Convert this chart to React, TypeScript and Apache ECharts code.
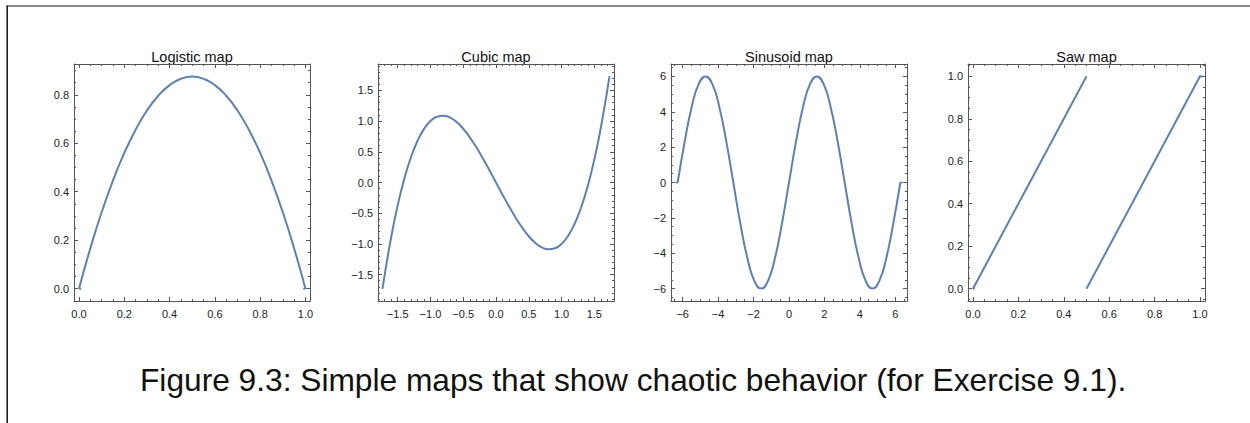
import React, { useEffect, useRef } from "react";
import * as echarts from "echarts";

const FONT = '"Liberation Sans", Arial, Helvetica, sans-serif';
const FRAME = "#555555";
const LABEL = "#222222";
const LINE = "#5e81b5";

// ---------- data ----------
const logisticX = [0, 0.05, 0.1, 0.15, 0.2, 0.25, 0.3, 0.35, 0.4, 0.45, 0.5, 0.55, 0.6, 0.65, 0.7, 0.75, 0.8, 0.85, 0.9, 0.95, 1];
const logisticY = [0, 0.166, 0.315, 0.446, 0.56, 0.656, 0.735, 0.796, 0.84, 0.866, 0.875, 0.866, 0.84, 0.796, 0.735, 0.656, 0.56, 0.446, 0.315, 0.166, 0];
const logisticFlatLeftX = [0, 0.01];
const logisticFlatLeftY = [0, 0];
const logisticFlatRightX = [0.99, 1];
const logisticFlatRightY = [0, 0];

const cubicX = [-1.732, -1.6, -1.5, -1.4, -1.3, -1.2, -1.1, -1.0, -0.9, -0.8, -0.7, -0.6, -0.5, -0.4, -0.3, -0.2, -0.1, 0, 0.1, 0.2, 0.3, 0.4, 0.5, 0.6, 0.7, 0.8, 0.9, 1.0, 1.1, 1.2, 1.3, 1.4, 1.5, 1.6, 1.732];
const cubicY = [-1.732, -0.896, -0.375, 0.056, 0.403, 0.672, 0.869, 1.0, 1.071, 1.088, 1.057, 0.984, 0.875, 0.736, 0.573, 0.392, 0.199, 0, -0.199, -0.392, -0.573, -0.736, -0.875, -0.984, -1.057, -1.088, -1.071, -1.0, -0.869, -0.672, -0.403, -0.056, 0.375, 0.896, 1.732];

const sinX = [-6.283, -5.890, -5.498, -5.105, -4.712, -4.320, -3.927, -3.534, -3.142, -2.749, -2.356, -1.963, -1.571, -1.178, -0.785, -0.393, 0, 0.393, 0.785, 1.178, 1.571, 1.963, 2.356, 2.749, 3.142, 3.534, 3.927, 4.320, 4.712, 5.105, 5.498, 5.890, 6.283];
const sinY = [0, 2.296, 4.243, 5.543, 6, 5.543, 4.243, 2.296, 0, -2.296, -4.243, -5.543, -6, -5.543, -4.243, -2.296, 0, 2.296, 4.243, 5.543, 6, 5.543, 4.243, 2.296, 0, -2.296, -4.243, -5.543, -6, -5.543, -4.243, -2.296, 0];
const sinFlatLeftX = [-6.4, -6.283];
const sinFlatLeftY = [0, 0];
const sinFlatRightX = [6.283, 6.4];
const sinFlatRightY = [0, 0];

const saw1X = [0, 0.25, 0.5];
const saw1Y = [0, 0.5, 1];
const saw2X = [0.5, 0.75, 1];
const saw2Y = [0, 0.5, 1];
const sawFlatLeftX = [0, 0.008];
const sawFlatLeftY = [0, 0];
const sawFlatRightX = [0.995, 1.01];
const sawFlatRightY = [1, 1];

// tick labels
const ticks01 = [0, 0.2, 0.4, 0.6, 0.8, 1.0];
const ticksLogY = [0, 0.2, 0.4, 0.6, 0.8];
const ticksCubic = [-1.5, -1.0, -0.5, 0, 0.5, 1.0, 1.5];
const ticksSin = [-6, -4, -2, 0, 2, 4, 6];

const titles = ["Logistic map", "Cubic map", "Sinusoid map", "Saw map"];
const caption = "Figure 9.3: Simple maps that show chaotic behavior (for Exercise 9.1).";

function minorTicks(min: number, max: number, step: number, majorStep: number) {
  const out: number[] = [];
  const start = Math.ceil(min / step - 1e-9);
  const end = Math.floor(max / step + 1e-9);
  for (let k = start; k <= end; k++) {
    const v = +(k * step).toFixed(6);
    const r = v / majorStep;
    if (Math.abs(r - Math.round(r)) > 1e-6) out.push(v);
  }
  return out;
}

const minus = (s: string) => s.replace("-", "\u2212");
const fmt1 = (v: number) => minus((Math.abs(v) < 1e-9 ? 0 : v).toFixed(1));
const fmt0 = (v: number) => minus((Math.abs(v) < 1e-9 ? 0 : v).toFixed(0));

type Line = { x: number[]; y: number[]; smooth: number | boolean };
type Panel = {
  title: string;
  left: number; top: number; width: number; height: number;
  xr: [number, number]; yr: [number, number];
  xMajor: number[]; yMajor: number[];
  xMinorStep: number; yMinorStep: number; xMajorStep: number; yMajorStep: number;
  xFmt: (v: number) => string; yFmt: (v: number) => string;
  lines: Line[];
};

const panels: Panel[] = [
  {
    title: titles[0], left: 74, top: 64, width: 236, height: 237,
    xr: [-0.022, 1.02], yr: [-0.051, 0.927],
    xMajor: ticks01, yMajor: ticksLogY, xMinorStep: 0.05, yMinorStep: 0.05, xMajorStep: 0.2, yMajorStep: 0.2,
    xFmt: fmt1, yFmt: fmt1,
    lines: [
      { x: logisticX, y: logisticY, smooth: 0.5 },
      { x: logisticFlatLeftX, y: logisticFlatLeftY, smooth: false },
      { x: logisticFlatRightX, y: logisticFlatRightY, smooth: false },
    ],
  },
  {
    title: titles[1], left: 378, top: 64, width: 236, height: 237,
    xr: [-1.8, 1.8], yr: [-1.93, 1.93],
    xMajor: ticksCubic, yMajor: ticksCubic, xMinorStep: 0.1, yMinorStep: 0.1, xMajorStep: 0.5, yMajorStep: 0.5,
    xFmt: fmt1, yFmt: fmt1,
    lines: [{ x: cubicX, y: cubicY, smooth: 0.5 }],
  },
  {
    title: titles[2], left: 671, top: 64, width: 236, height: 237,
    xr: [-6.66, 6.66], yr: [-6.7, 6.7],
    xMajor: ticksSin, yMajor: ticksSin, xMinorStep: 0.5, yMinorStep: 0.5, xMajorStep: 2, yMajorStep: 2,
    xFmt: fmt0, yFmt: fmt0,
    lines: [
      { x: sinX, y: sinY, smooth: 0.5 },
      { x: sinFlatLeftX, y: sinFlatLeftY, smooth: false },
      { x: sinFlatRightX, y: sinFlatRightY, smooth: false },
    ],
  },
  {
    title: titles[3], left: 968, top: 64, width: 237, height: 237,
    xr: [-0.022, 1.022], yr: [-0.058, 1.058],
    xMajor: ticks01, yMajor: ticks01, xMinorStep: 0.05, yMinorStep: 0.05, xMajorStep: 0.2, yMajorStep: 0.2,
    xFmt: fmt1, yFmt: fmt1,
    lines: [
      { x: saw1X, y: saw1Y, smooth: false },
      { x: saw2X, y: saw2Y, smooth: false },
      { x: sawFlatLeftX, y: sawFlatLeftY, smooth: false },
      { x: sawFlatRightX, y: sawFlatRightY, smooth: false },
    ],
  },
];

function buildOption() {
  const grid: any[] = [];
  const xAxis: any[] = [];
  const yAxis: any[] = [];
  const series: any[] = [];
  const graphic: any[] = [];

  panels.forEach((p, gi) => {
    grid.push({ left: p.left, top: p.top, width: p.width, height: p.height, containLabel: false });
    const xMinor = minorTicks(p.xr[0], p.xr[1], p.xMinorStep, p.xMajorStep);
    const yMinor = minorTicks(p.yr[0], p.yr[1], p.yMinorStep, p.yMajorStep);
    const tickStyle = { color: FRAME, width: 1 };
    const lineStyle = { color: FRAME, width: 1 };
    const label = (fmt: (v: number) => string, vals: number[], margin: number) => ({
      show: true, customValues: vals, formatter: fmt, margin, fontSize: 11, color: LABEL, fontFamily: FONT,
    });
    const mk = (dim: "x" | "y", position: string, showLine: boolean, vals: number[], len: number, lab: any) => ({
      type: "value",
      gridIndex: gi,
      position,
      min: dim === "x" ? p.xr[0] : p.yr[0],
      max: dim === "x" ? p.xr[1] : p.yr[1],
      splitLine: { show: false },
      axisLine: { show: showLine, onZero: false, lineStyle },
      axisTick: { show: true, inside: true, length: len, customValues: vals, lineStyle: tickStyle },
      axisLabel: lab || { show: false },
      silent: true,
    });
    xAxis.push(mk("x", "bottom", true, p.xMajor, 4, label(p.xFmt, p.xMajor, 7)));
    xAxis.push(mk("x", "bottom", false, xMinor, 2, null));
    xAxis.push(mk("x", "top", true, p.xMajor, 4, null));
    xAxis.push(mk("x", "top", false, xMinor, 2, null));
    yAxis.push(mk("y", "left", true, p.yMajor, 4, label(p.yFmt, p.yMajor, 5)));
    yAxis.push(mk("y", "left", false, yMinor, 2, null));
    yAxis.push(mk("y", "right", true, p.yMajor, 4, null));
    yAxis.push(mk("y", "right", false, yMinor, 2, null));

    p.lines.forEach((ln) => {
      series.push({
        type: "line",
        xAxisIndex: gi * 4,
        yAxisIndex: gi * 4,
        data: ln.x.map((x, i) => [x, ln.y[i]]),
        smooth: ln.smooth,
        symbol: "none",
        clip: true,
        lineStyle: { color: LINE, width: 2, cap: "butt", join: "round" },
        silent: true,
      });
    });

    graphic.push({
      type: "text",
      x: p.left + p.width / 2,
      y: 56.7,
      style: {
        text: p.title,
        font: `14.5px ${FONT}`,
        fill: "#111111",
        textAlign: "center",
        textVerticalAlign: "middle",
      },
      silent: true,
    });
  });

  // page frame lines
  graphic.push({
    type: "line",
    shape: { x1: 6, y1: 6, x2: 1250, y2: 6 },
    style: { stroke: "#8a8a8a", lineWidth: 2 },
    silent: true,
  });
  graphic.push({
    type: "line",
    shape: { x1: 7.2, y1: 6, x2: 7.2, y2: 423 },
    style: { stroke: "#111111", lineWidth: 1.5 },
    silent: true,
  });
  graphic.push({
    type: "text",
    x: 140,
    y: 380,
    style: {
      text: caption,
      font: `31.7px ${FONT}`,
      fill: "#111111",
      textAlign: "left",
      textVerticalAlign: "middle",
    },
    silent: true,
  });

  return {
    animation: false,
    backgroundColor: "#ffffff",
    grid,
    xAxis,
    yAxis,
    series,
    graphic,
  };
}

export default function App() {
  const ref = useRef<HTMLDivElement>(null);
  useEffect(() => {
    if (!ref.current) return;
    const chart = echarts.init(ref.current, undefined, { renderer: "svg" });
    chart.setOption(buildOption() as any);
    return () => chart.dispose();
  }, []);
  return (
    <div
      ref={ref}
      style={{ position: "absolute", left: 0, top: 0, width: 1250, height: 423, background: "#fff" }}
    />
  );
}
